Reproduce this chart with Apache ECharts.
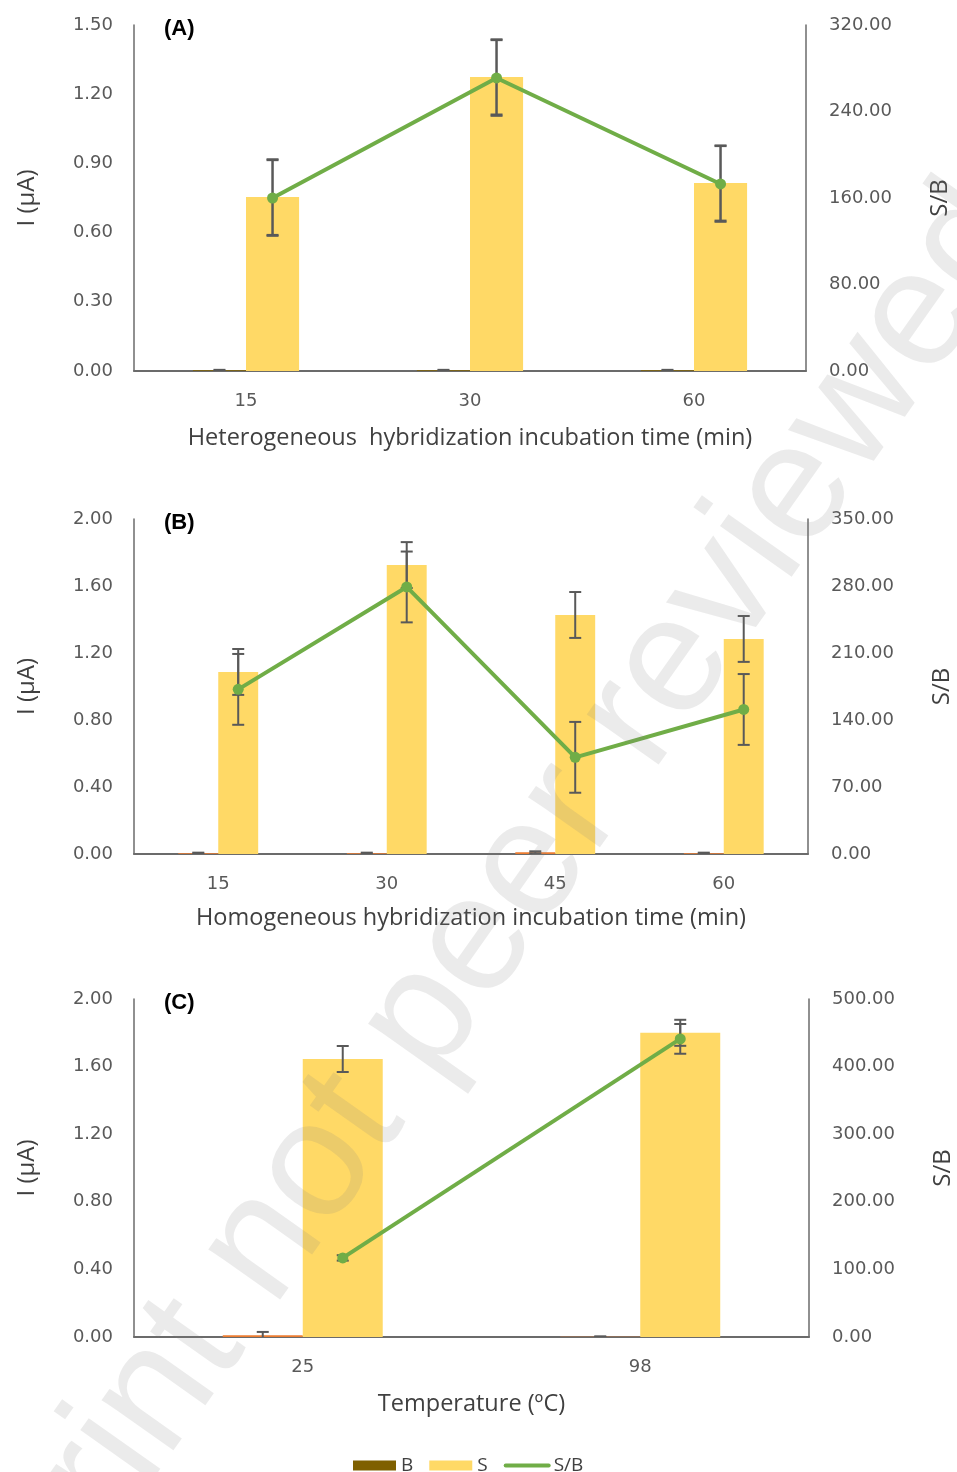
<!DOCTYPE html>
<html>
<head>
<meta charset="utf-8">
<script src="https://cdn.jsdelivr.net/npm/echarts@6/dist/echarts.min.js"></script>
<style>
html, body { margin: 0; padding: 0; background: #fff; }
#chart { width: 957px; height: 1472px; }
</style>
</head>
<body>
<div id="chart"></div>
<script>
// (A) heterogeneous hybridization incubation time
const catsA = ['15', '30', '60'];
const bA = [0.003, 0.003, 0.003];
const bErrA = [0.002, 0.002, 0.002];
const sA = [0.754, 1.275, 0.815];
const sErrA = [0.164, 0.163, 0.163];
const sbA = [160, 271, 173];
const sbErrA = [35, 35, 35];

// (B) homogeneous hybridization incubation time
const catsB = ['15', '30', '45', '60'];
const bB = [0.005, 0.005, 0.01, 0.005];
const bErrB = [0.003, 0.003, 0.006, 0.003];
const sB = [1.087, 1.725, 1.427, 1.284];
const sErrB = [0.137, 0.137, 0.137, 0.137];
const sbB = [172, 279, 101, 151];
const sbErrB = [37, 37, 37, 37];

// (C) temperature
const catsC = ['25', '98'];
const bC = [0.01, 0.002];
const bErrC = [0.02, 0.002];
const sC = [1.645, 1.80];
const sErrC = [0.077, 0.077];
const sbC = [117, 441];
const sbErrC = [4, 22];

// axis ranges and tick steps
const leftMax = [1.5, 2.0, 2.0];
const leftStep = [0.3, 0.4, 0.4];
const rightMax = [320, 350, 500];
const rightStep = [80, 70, 100];

const xTitles = [
  'Heterogeneous  hybridization incubation time (min)',
  'Homogeneous hybridization incubation time (min)',
  'Temperature (ºC)'
];
const panelTags = ['(A)', '(B)', '(C)'];

const COLOR_B_LEGEND = '#7F6000';
const COLOR_B = '#ED7D31';
const COLOR_S = '#FFD966';
const COLOR_SB = '#70AD47';
const COLOR_ERR = '#595959';
const AXIS_COLOR = '#6b6b6b';
const TEXT_COLOR = '#595959';

// each bar takes this share of its category; B and S sit side by side
const BAR_FRAC = 0.237;
const HALF = BAR_FRAC / 2;

const panels = [
  { cats: catsA, b: bA, bErr: bErrA, s: sA, sErr: sErrA, sb: sbA, sbErr: sbErrA,
    grid: { left: 134, top: 25, width: 672, height: 346 }, nameGap: 55, bColor: COLOR_B_LEGEND },
  { cats: catsB, b: bB, bErr: bErrB, s: sB, sErr: sErrB, sb: sbB, sbErr: sbErrB,
    grid: { left: 134, top: 519, width: 674, height: 335 }, nameGap: 52, bColor: COLOR_B },
  { cats: catsC, b: bC, bErr: bErrC, s: sC, sErr: sErrC, sb: sbC, sbErr: sbErrC,
    grid: { left: 134, top: 999, width: 675, height: 338 }, nameGap: 55, bColor: COLOR_B }
];

function errorBars(params, api) {
  const x = api.value(0);
  const top = api.coord([x, api.value(2)]);
  const bot = api.coord([x, api.value(1)]);
  const cap = 6;
  const st = { stroke: COLOR_ERR, lineWidth: 2 };
  return {
    type: 'group',
    children: [
      { type: 'line', shape: { x1: top[0], y1: top[1], x2: bot[0], y2: bot[1] }, style: st },
      { type: 'line', shape: { x1: top[0] - cap, y1: top[1], x2: top[0] + cap, y2: top[1] }, style: st },
      { type: 'line', shape: { x1: bot[0] - cap, y1: bot[1], x2: bot[0] + cap, y2: bot[1] }, style: st }
    ]
  };
}

const grid = [], xAxis = [], yAxis = [], series = [], graphic = [];
const tickFont = { color: TEXT_COLOR, fontSize: 18, fontFamily: 'DejaVu Sans' };
const nameFont = { color: '#404040', fontSize: 23.5, fontFamily: 'Open Sans' };
const yNameFont = { color: '#404040', fontSize: 24, fontFamily: 'Open Sans' };

panels.forEach((p, k) => {
  grid.push(Object.assign({ containLabel: false, outerBoundsMode: 'none' }, p.grid));
  const n = p.cats.length;
  xAxis.push({
    type: 'category', gridIndex: k, data: p.cats,
    axisLine: { show: true, lineStyle: { color: AXIS_COLOR, width: 2 } },
    axisTick: { show: false },
    axisLabel: Object.assign({ margin: 21 }, tickFont),
    name: xTitles[k], nameLocation: 'middle', nameGap: p.nameGap,
    nameTextStyle: nameFont
  });
  xAxis.push({ type: 'value', gridIndex: k, min: -0.5, max: n - 0.5, show: false });
  yAxis.push({
    type: 'value', gridIndex: k, position: 'left', min: 0, max: leftMax[k], interval: leftStep[k],
    axisLine: { show: true, onZero: false, lineStyle: { color: AXIS_COLOR, width: 1.5 } },
    axisTick: { show: false }, splitLine: { show: false },
    axisLabel: Object.assign({ margin: 21, formatter: v => v.toFixed(2) }, tickFont),
    name: 'I (µA)', nameLocation: 'middle', nameRotate: 90, nameGap: 95,
    nameTextStyle: yNameFont
  });
  yAxis.push({
    type: 'value', gridIndex: k, position: 'right', min: 0, max: rightMax[k], interval: rightStep[k],
    axisLine: { show: true, onZero: false, lineStyle: { color: AXIS_COLOR, width: 1.5 } },
    axisTick: { show: false }, splitLine: { show: false },
    axisLabel: Object.assign({ margin: 23, formatter: v => v.toFixed(2) }, tickFont),
    name: 'S/B', nameLocation: 'middle', nameRotate: 90, nameGap: 122,
    nameTextStyle: yNameFont
  });

  const xc = 2 * k, xv = 2 * k + 1, yl = 2 * k, yr = 2 * k + 1;
  series.push({
    name: 'B', type: 'bar', xAxisIndex: xc, yAxisIndex: yl, data: p.b,
    barWidth: (BAR_FRAC * 100) + '%', barGap: '0%', itemStyle: { color: p.bColor }, z: 2
  });
  series.push({
    name: 'S', type: 'bar', xAxisIndex: xc, yAxisIndex: yl, data: p.s,
    barWidth: (BAR_FRAC * 100) + '%', barGap: '0%', itemStyle: { color: COLOR_S }, z: 2
  });
  series.push({
    name: 'errB' + k, type: 'custom', xAxisIndex: xv, yAxisIndex: yl, renderItem: errorBars, clip: true,
    data: p.b.map((v, i) => [i - HALF, v - p.bErr[i], v + p.bErr[i]]), z: 3, silent: true
  });
  series.push({
    name: 'errS' + k, type: 'custom', xAxisIndex: xv, yAxisIndex: yl, renderItem: errorBars, clip: true,
    data: p.s.map((v, i) => [i + HALF, v - p.sErr[i], v + p.sErr[i]]), z: 3, silent: true
  });
  series.push({
    name: 'errSB' + k, type: 'custom', xAxisIndex: xv, yAxisIndex: yr, renderItem: errorBars, clip: true,
    data: p.sb.map((v, i) => [i + HALF, v - p.sbErr[i], v + p.sbErr[i]]), z: 3, silent: true
  });
  series.push({
    name: 'S/B', type: 'line', xAxisIndex: xv, yAxisIndex: yr,
    data: p.sb.map((v, i) => [i + HALF, v]),
    symbol: 'circle', symbolSize: 11,
    lineStyle: { color: COLOR_SB, width: 4 }, itemStyle: { color: COLOR_SB }, z: 4
  });

  graphic.push({
    type: 'text', left: 164, top: p.grid.top - 7,
    style: { text: panelTags[k], fill: '#000', font: 'bold 22px "Liberation Sans", Arial' }
  });
});

// diagonal preprint notice laid over the figure
graphic.push({
  type: 'text', x: 436, y: 1000, rotation: 0.955, z: 100, silent: true,
  style: {
    text: 'Preprint not peer reviewed',
    fill: 'rgba(128,128,128,0.16)',
    font: '166px "Liberation Sans", Arial',
    textAlign: 'center', textVerticalAlign: 'middle'
  }
});

const chart = echarts.init(document.getElementById('chart'), null, { renderer: 'canvas' });
chart.setOption({
  backgroundColor: '#fff',
  animation: false,
  grid, xAxis, yAxis, series, graphic,
  legend: {
    left: 348, top: 1451,
    itemWidth: 43, itemHeight: 10, itemGap: 16,
    textStyle: { color: '#404040', fontSize: 19, fontFamily: 'Open Sans' },
    data: [
      { name: 'B', icon: 'rect' },
      { name: 'S', icon: 'rect' },
      { name: 'S/B', itemStyle: { opacity: 0 }, lineStyle: { width: 4, cap: 'round' } }
    ]
  }
});
</script>
</body>
</html>
